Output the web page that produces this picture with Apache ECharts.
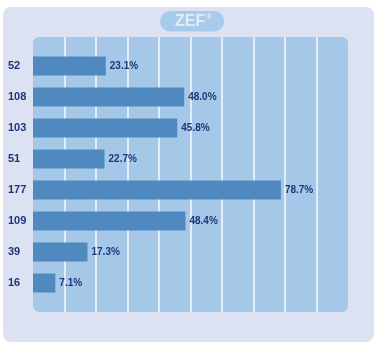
<!DOCTYPE html>
<html><head><meta charset="utf-8">
<script src="https://cdn.jsdelivr.net/npm/echarts@6/dist/echarts.min.js"></script>
<style>html,body{margin:0;padding:0;background:#fff}#c{width:376px;height:346px}</style>
</head><body><div id="c"></div>
<script>
var titleText = 'ZEF';
var counts = ['52','108','103','51','177','109','39','16'];
var percents = [23.1, 48.0, 45.8, 22.7, 78.7, 48.4, 17.3, 7.1];
var axisMin = 0, axisMax = 100, axisStep = 10;

var chart = echarts.init(document.getElementById('c'), null, {renderer:'canvas'});
var font = '"Liberation Sans", Arial, sans-serif';
chart.setOption({
  backgroundColor: '#ffffff',
  animation: false,
  title: {
    text: '{a|' + titleText + '}{b|®}',
    left: 160, top: 11,
    backgroundColor: '#a8cbec',
    borderRadius: 10,
    padding: [2, 12, 2, 15],
    textStyle: {
      rich: {
        a: {fontFamily: font, fontWeight: 'bold', fontSize: 16, color: '#e2ecf7', lineHeight: 17},
        b: {fontFamily: font, fontSize: 8, color: '#e2ecf7', verticalAlign: 'top', lineHeight: 17, padding: [0,0,6,1]}
      }
    }
  },
  graphic: [
    {type: 'rect', z: -10, silent: true, shape: {x: 3, y: 7, width: 371, height: 335, r: 8}, style: {fill: '#dce2f1'}},
    {type: 'rect', z: -9, silent: true, shape: {x: 33, y: 37, width: 315, height: 275, r: 6}, style: {fill: '#a5c8e8'}}
  ],
  grid: [
    {left: 33, right: 28, top: 37, height: 275},
    {left: 33, right: 28, top: 50.5, height: 248}
  ],
  xAxis: [
    {gridIndex: 0, type: 'value', min: axisMin, max: axisMax, interval: axisStep,
     axisLine: {show: false}, axisTick: {show: false}, axisLabel: {show: false},
     splitLine: {show: true, showMinLine: false, showMaxLine: false, lineStyle: {color: '#e4ecf7', width: 2}}},
    {gridIndex: 1, type: 'value', min: axisMin, max: axisMax, interval: axisStep, show: false, splitLine: {show: false}}
  ],
  yAxis: [
    {gridIndex: 0, type: 'category', data: counts, show: false},
    {gridIndex: 1, type: 'category', data: counts, inverse: true,
     axisLine: {show: false}, axisTick: {show: false},
     axisLabel: {align: 'left', margin: 25, fontFamily: font, fontWeight: 'bold', fontSize: 11, color: '#1f3579'}}
  ],
  series: [{
    type: 'bar', xAxisIndex: 1, yAxisIndex: 1,
    data: percents, barWidth: 19,
    itemStyle: {color: '#5089bf'},
    label: {show: true, position: 'right', distance: 4,
      formatter: function(p){ return p.value.toFixed(1) + '%'; },
      fontFamily: font, fontWeight: 'bold', fontSize: 10, color: '#1f3579'}
  }]
});
</script></body></html>
